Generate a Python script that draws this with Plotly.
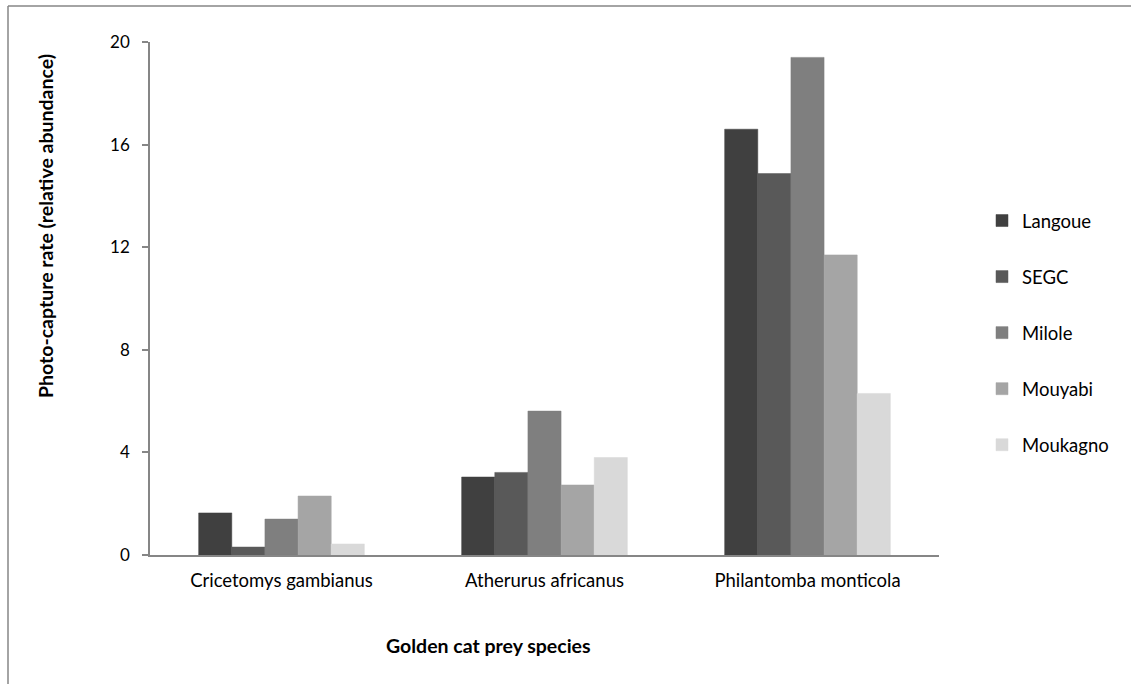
import plotly.graph_objects as go

# Prey species on the category axis
species = ["Cricetomys gambianus", "Atherurus africanus", "Philantomba monticola"]

# Photo-capture rate per study site
langoue = [1.64, 3.04, 16.6]
segc = [0.31, 3.22, 14.87]
milole = [1.40, 5.61, 19.4]
mouyabi = [2.30, 2.73, 11.7]
moukagno = [0.43, 3.80, 6.3]

site_names = ["Langoue", "SEGC", "Milole", "Mouyabi", "Moukagno"]
site_values = [langoue, segc, milole, mouyabi, moukagno]
site_colors = ["#404040", "#595959", "#7f7f7f", "#a5a5a5", "#d9d9d9"]

y_ticks = [0, 4, 8, 12, 16, 20]

FONT = "Lato, 'Open Sans', sans-serif"
W, H = 1131, 684
L, R, T, B = 150, 939, 42, 555  # plot area in pixels

fig = go.Figure()
for name, vals, col in zip(site_names, site_values, site_colors):
    fig.add_trace(go.Bar(
        x=species, y=vals, name=name,
        marker=dict(color=col, line=dict(color=col, width=0.5)),
        legendgroup=name,
    ))

def px(x):
    return (x - L) / (R - L)

def py(y):
    return (B - y) / (B - T)

axis_col = "#868686"
fig.update_layout(
    width=W, height=H,
    margin=dict(l=L, r=W - R, t=T, b=H - B),
    paper_bgcolor="white", plot_bgcolor="white",
    barmode="group", bargap=0.37, bargroupgap=0,
    font=dict(family=FONT, size=17, color="#000000"),
    showlegend=True,
    legend=dict(
        x=px(982), y=py(202), xanchor="left", yanchor="top",
        font=dict(family=FONT, size=18.5, color="#000000"),
        tracegroupgap=29, itemwidth=30,
        bgcolor="rgba(0,0,0,0)",
    ),
    xaxis=dict(
        showline=True, linecolor=axis_col, linewidth=1.5,
        ticks="", showgrid=False, zeroline=False,
        tickfont=dict(family=FONT, size=18.5, color="#000000"),
        ticklabelstandoff=8,
    ),
    yaxis=dict(
        range=[0, 20], tickvals=y_ticks, ticktext=[str(v) for v in y_ticks],
        showline=True, linecolor=axis_col, linewidth=1.5,
        ticks="outside", ticklen=6, tickcolor=axis_col, tickwidth=1.5,
        showgrid=False, zeroline=False,
        tickfont=dict(family=FONT, size=17, color="#000000"),
        ticklabelstandoff=9,
    ),
    shapes=[
        # outer frame: top and left edges
        dict(type="line", xref="paper", yref="paper",
             x0=px(8), x1=px(W + 5), y0=py(6), y1=py(6),
             line=dict(color=axis_col, width=1.5)),
        dict(type="line", xref="paper", yref="paper",
             x0=px(8), x1=px(8), y0=py(6), y1=py(H + 5),
             line=dict(color=axis_col, width=1.5)),
    ],
    annotations=[
        dict(text="<b>Photo-capture rate (relative abundance)</b>",
             xref="paper", yref="paper", x=px(45), y=py(226),
             xanchor="center", yanchor="middle",
             textangle=-90, showarrow=False,
             font=dict(family=FONT, size=19.5, color="#000000")),
        dict(text="<b>Golden cat prey species</b>",
             xref="paper", yref="paper", x=px(488), y=py(645),
             xanchor="center", yanchor="middle",
             showarrow=False,
             font=dict(family=FONT, size=19.5, color="#000000")),
    ],
)

fig.write_html("out.html")
